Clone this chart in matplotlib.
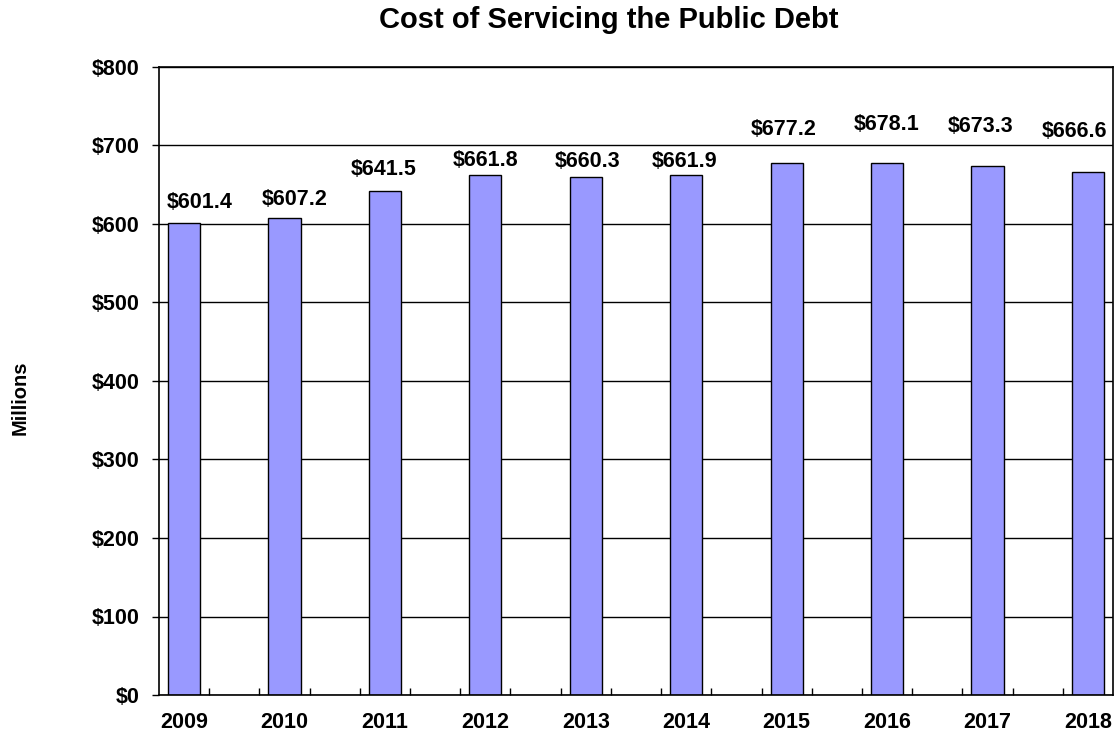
import numpy as np
import matplotlib
matplotlib.use("Agg")
import matplotlib.pyplot as plt
from matplotlib.ticker import FixedLocator, FuncFormatter, MultipleLocator

# ---- Data ----
years = ["2009", "2010", "2011", "2012", "2013", "2014", "2015", "2016", "2017", "2018"]
cost = [601.4, 607.2, 641.5, 661.8, 660.3, 661.9, 677.2, 678.1, 673.3, 666.6]

# label nudges (pixels) so they sit like the original labels
label_dx = [16, 10, -1, 0, 2, -2, -3, 0, -7, -13]
label_dy = [15, 13, 16, 9, 10, 8, 28, 33, 34, 35]

plt.rcParams["font.family"] = ["Liberation Sans", "DejaVu Sans"]
plt.rcParams["font.weight"] = "bold"

W, H = 1116, 731
fig = plt.figure(figsize=(W / 100, H / 100), dpi=100)
ax = fig.add_axes([159 / W, (H - 695) / H, (1113 - 159) / W, (695 - 67) / H])

x = np.arange(len(years))
ax.bar(x, cost, width=0.32, color="#9999FF", edgecolor="black", linewidth=1, zorder=3)

# ---- Data labels ----
for i, v in enumerate(cost):
    ax.annotate(f"${v:.1f}", xy=(x[i], v), xytext=(label_dx[i], label_dy[i]),
                textcoords="offset pixels", ha="center", va="baseline",
                fontsize=15.5, fontweight="bold", zorder=4)

# ---- Axes ----
ax.set_xlim(-0.25, len(years) - 0.75)
ax.set_ylim(0, 800)
ax.yaxis.set_major_locator(MultipleLocator(100))
ax.yaxis.set_major_formatter(FuncFormatter(lambda v, _: f"${v:,.0f}"))
ax.grid(axis="y", color="black", linewidth=1, zorder=1)

ax.set_xticks(x)
ax.set_xticklabels(years)
ax.xaxis.set_minor_locator(FixedLocator(np.arange(0.25, len(years) - 0.75, 0.5)))

ax.tick_params(axis="x", which="major", length=0, pad=12, labelsize=15.5)
ax.tick_params(axis="x", which="minor", direction="in", length=5, width=1, color="black")
ax.tick_params(axis="y", which="major", direction="out", length=5, width=1, pad=9,
               labelsize=15.5)

for s in ax.spines.values():
    s.set_linewidth(1.2)
    s.set_color("black")
    s.set_zorder(5)

# ---- Text ----
fig.text(609 / W, 1 - 28 / H, "Cost of Servicing the Public Debt", ha="center",
         va="baseline", fontsize=21, fontweight="bold")
fig.text(20 / W, 1 - 398 / H, "Millions", rotation=90, ha="center", va="center",
         fontsize=14.5, fontweight="bold")

fig.savefig("out.png", dpi=100)
